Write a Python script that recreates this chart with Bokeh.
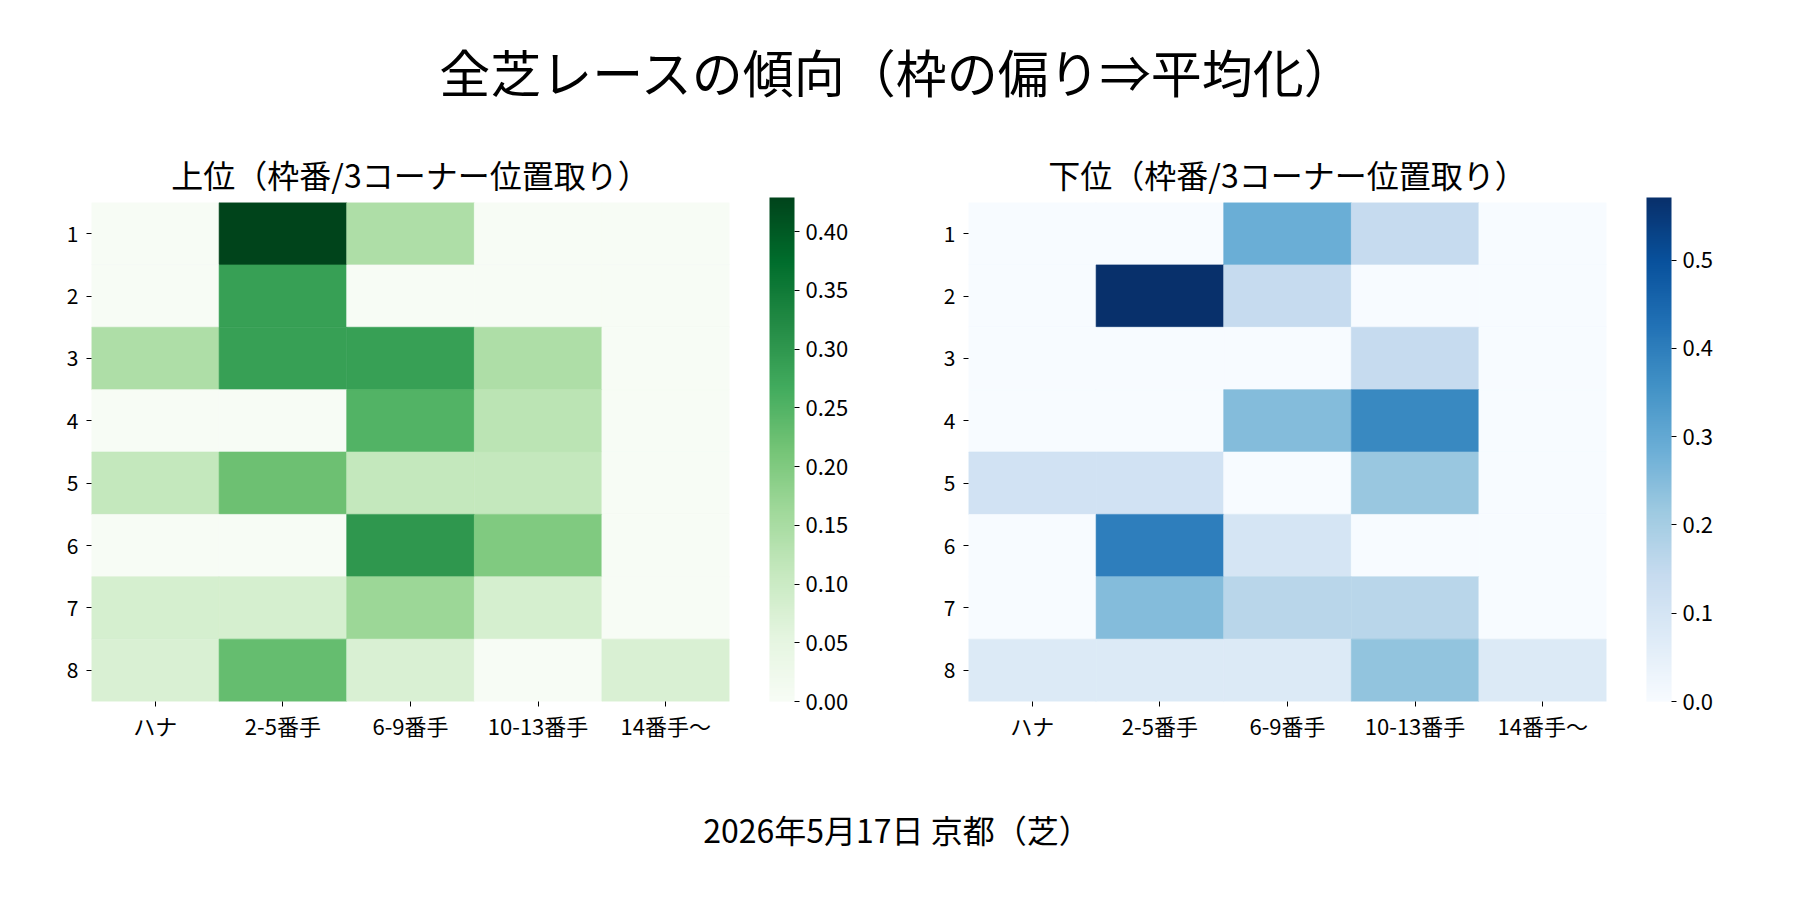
from bokeh.plotting import figure
from bokeh.models import (ColumnDataSource, FactorRange, LinearColorMapper, ColorBar,
                          FixedTicker, PrintfTickFormatter, Div)
from bokeh.layouts import column, row
from bokeh.palettes import Greens256, Blues256
from bokeh.embed import file_html
from bokeh.resources import INLINE

FONT = "Noto Sans CJK JP"

main_title = "全芝レースの傾向（枠の偏り⇒平均化）"
footer_text = "2026年5月17日 京都（芝）"
upper_title = "上位（枠番/3コーナー位置取り）"
lower_title = "下位（枠番/3コーナー位置取り）"

positions = ["ハナ", "2-5番手", "6-9番手", "10-13番手", "14番手～"]
gates = ["1", "2", "3", "4", "5", "6", "7", "8"]

# rows = gate 1..8, columns = positions
upper_values = [
    [0.0,   0.429, 0.143, 0.0,   0.0],
    [0.0,   0.286, 0.0,   0.0,   0.0],
    [0.143, 0.286, 0.286, 0.143, 0.0],
    [0.0,   0.0,   0.25,  0.125, 0.0],
    [0.111, 0.222, 0.111, 0.111, 0.0],
    [0.0,   0.0,   0.3,   0.2,   0.0],
    [0.083, 0.083, 0.167, 0.083, 0.0],
    [0.077, 0.231, 0.077, 0.0,   0.077],
]
lower_values = [
    [0.0,   0.0,   0.286, 0.143, 0.0],
    [0.0,   0.571, 0.143, 0.0,   0.0],
    [0.0,   0.0,   0.0,   0.143, 0.0],
    [0.0,   0.0,   0.25,  0.375, 0.0],
    [0.111, 0.111, 0.0,   0.222, 0.0],
    [0.0,   0.4,   0.1,   0.0,   0.0],
    [0.0,   0.25,  0.167, 0.167, 0.0],
    [0.077, 0.077, 0.077, 0.231, 0.077],
]
upper_ticks = [0.0, 0.05, 0.10, 0.15, 0.20, 0.25, 0.30, 0.35, 0.40]
lower_ticks = [0.0, 0.1, 0.2, 0.3, 0.4, 0.5]


def heatmap(values, palette, ticks, fmt, title, border_left):
    xs, ys, vs = [], [], []
    for gi, g in enumerate(gates):
        for pi, pos in enumerate(positions):
            xs.append(pos)
            ys.append(g)
            vs.append(values[gi][pi])
    vmax = max(vs)
    mapper = LinearColorMapper(palette=palette, low=0.0, high=vmax)
    src = ColumnDataSource(dict(x=xs, y=ys, v=vs))
    p = figure(x_range=FactorRange(factors=positions),
               y_range=FactorRange(factors=list(reversed(gates))),
               width=border_left + 638 + 160, height=55 + 504 + 103,
               min_border_left=border_left, min_border_right=160,
               min_border_top=55, min_border_bottom=103,
               output_backend="svg", toolbar_location=None, title=title)
    p.rect(x="x", y="y", width=1, height=1, source=src,
           fill_color={"field": "v", "transform": mapper},
           line_color={"field": "v", "transform": mapper}, line_width=0.6)
    p.title.align = "center"
    p.title.text_font = FONT
    p.title.text_font_size = "32px"
    p.title.text_font_style = "normal"
    p.title.text_color = "black"
    p.title.standoff = 12
    p.outline_line_color = None
    p.xgrid.grid_line_color = None
    p.ygrid.grid_line_color = None
    p.background_fill_color = "white"
    for ax in (p.xaxis, p.yaxis):
        ax.axis_line_color = None
        ax.major_tick_in = 0
        ax.major_tick_out = 5
        ax.major_tick_line_color = "black"
        ax.major_tick_line_width = 1
        ax.major_label_text_font = FONT
        ax.major_label_text_color = "black"
    p.xaxis.major_label_text_font_size = "22px"
    p.yaxis.major_label_text_font_size = "21px"
    p.yaxis.major_label_standoff = 8
    p.xaxis.major_label_standoff = 2
    cb = ColorBar(color_mapper=mapper, ticker=FixedTicker(ticks=ticks),
                  formatter=PrintfTickFormatter(format=fmt),
                  width=25, height=504, margin=0, padding=0,
                  location=(40, 0),
                  bar_line_color=None, border_line_color=None,
                  background_fill_color=None,
                  major_tick_in=0, major_tick_out=5,
                  major_tick_line_color="black",
                  label_standoff=6,
                  major_label_text_font=FONT,
                  major_label_text_font_size="22px",
                  major_label_text_color="black")
    p.add_layout(cb, "right")
    return p


p1 = heatmap(upper_values, Greens256[::-1], upper_ticks, "%.2f", upper_title, 91)
p2 = heatmap(lower_values, Blues256[::-1], lower_ticks, "%.1f", lower_title, 79)

head = Div(text=main_title, width=1784, height=132,
           styles={"font-family": FONT, "font-size": "51px", "line-height": "132px",
                   "text-align": "center", "color": "black"})
foot = Div(text=footer_text, width=1784, height=40,
           styles={"font-family": FONT, "font-size": "32px", "line-height": "40px",
                   "text-align": "center", "color": "black"})

layout = column(head, row(p1, p2), foot)
open("out.html", "w").write(file_html(layout, INLINE))
